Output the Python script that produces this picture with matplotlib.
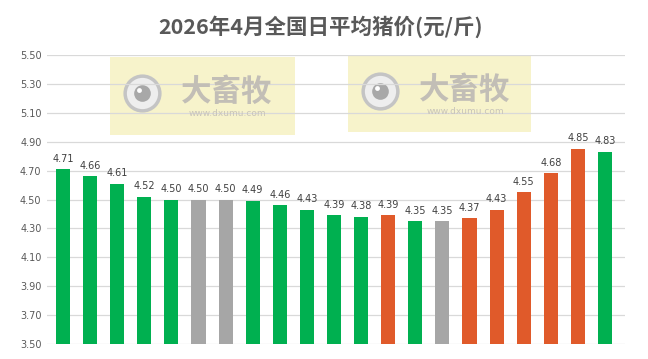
import numpy as np
import matplotlib
matplotlib.use("Agg")
import matplotlib.pyplot as plt
from matplotlib.patches import Rectangle

plt.rcParams['font.family'] = ['Noto Sans CJK SC', 'DejaVu Sans']

# 每日均价 (4月)
prices = [4.71, 4.66, 4.61, 4.52, 4.50, 4.50, 4.50, 4.49, 4.46, 4.43, 4.39,
          4.38, 4.39, 4.35, 4.35, 4.37, 4.43, 4.55, 4.68, 4.85, 4.83]
# 涨跌: d=跌, f=平, u=涨
trend = ['d', 'd', 'd', 'd', 'd', 'f', 'f', 'd', 'd', 'd', 'd',
         'd', 'u', 'd', 'f', 'u', 'u', 'u', 'u', 'u', 'd']
yticks = [3.50, 3.70, 3.90, 4.10, 4.30, 4.50, 4.70, 4.90, 5.10, 5.30, 5.50]

col = {'d': '#00b050', 'f': '#a6a6a6', 'u': '#e05a2a'}
colors = [col[t] for t in trend]
x = np.arange(len(prices))

W, H = 648, 359
fig = plt.figure(figsize=(W / 100, H / 100), dpi=100)
ax = fig.add_axes([47 / W, 1 - 344 / H, (625 - 47) / W, (344 - 55) / H])

ax.bar(x, prices, width=0.52, color=colors, zorder=2)
for xi, v in zip(x, prices):
    ax.annotate(f"{v:.2f}", (xi, v), xytext=(0, 4), textcoords='offset points',
                ha='center', va='bottom', fontsize=7, color='#404040',
                family='DejaVu Sans', zorder=3)

ax.set_ylim(3.5, 5.5)
ax.set_xlim(-0.59, 20.74)
ax.set_yticks(yticks)
ax.set_yticklabels([f"{t:.2f}" for t in yticks], family='DejaVu Sans')
ax.set_xticks([])
ax.tick_params(axis='y', length=0, pad=4, labelsize=7, labelcolor='#595959')
for s in ax.spines.values():
    s.set_visible(False)
ax.set_axisbelow(True)
ax.grid(axis='y', color='#d9d9d9', linewidth=0.9)

# 水印
for x0, y0, x1, y1 in [(110, 57, 295, 135), (348, 56, 531, 132)]:
    ax.add_patch(Rectangle((x0 / W, 1 - y1 / H), (x1 - x0) / W, (y1 - y0) / H,
                           transform=fig.transFigure, facecolor='#f6f1c2',
                           edgecolor='none', alpha=0.85, zorder=0.2, clip_on=False))
    cx, cy = x0 + 32, (y0 + y1) / 2 - 3
    ax.plot([cx / W], [1 - cy / H], marker='o', ms=25, mfc='#eeeeee', mec='#c4c4c4',
            mew=2.5, transform=fig.transFigure, zorder=0.3, clip_on=False)
    ax.plot([cx / W], [1 - cy / H], marker='o', ms=12, mfc='#a8a8a8', mec='none',
            transform=fig.transFigure, zorder=0.35, clip_on=False)
    ax.plot([(cx - 3) / W], [1 - (cy - 3) / H], marker='o', ms=3.5, mfc='white',
            mec='none', transform=fig.transFigure, zorder=0.4, clip_on=False)
    fig.text((x0 + 117) / W, 1 - (cy - 1) / H, "大畜牧", fontsize=22,
             fontweight='bold', color='#c2beb6', ha='center', va='center', zorder=0.3)
    fig.text((x0 + 117) / W, 1 - (cy + 21) / H, "www.dxumu.com", fontsize=6.5,
             color='#c8c4ba', ha='center', va='center', family='DejaVu Sans', zorder=0.3)

fig.text(321 / W, 1 - 27 / H, "2026年4月全国日平均猪价(元/斤)", ha='center', va='center',
         fontsize=15.5, fontweight='bold', color='#595959')

fig.savefig("out.png", dpi=100)
